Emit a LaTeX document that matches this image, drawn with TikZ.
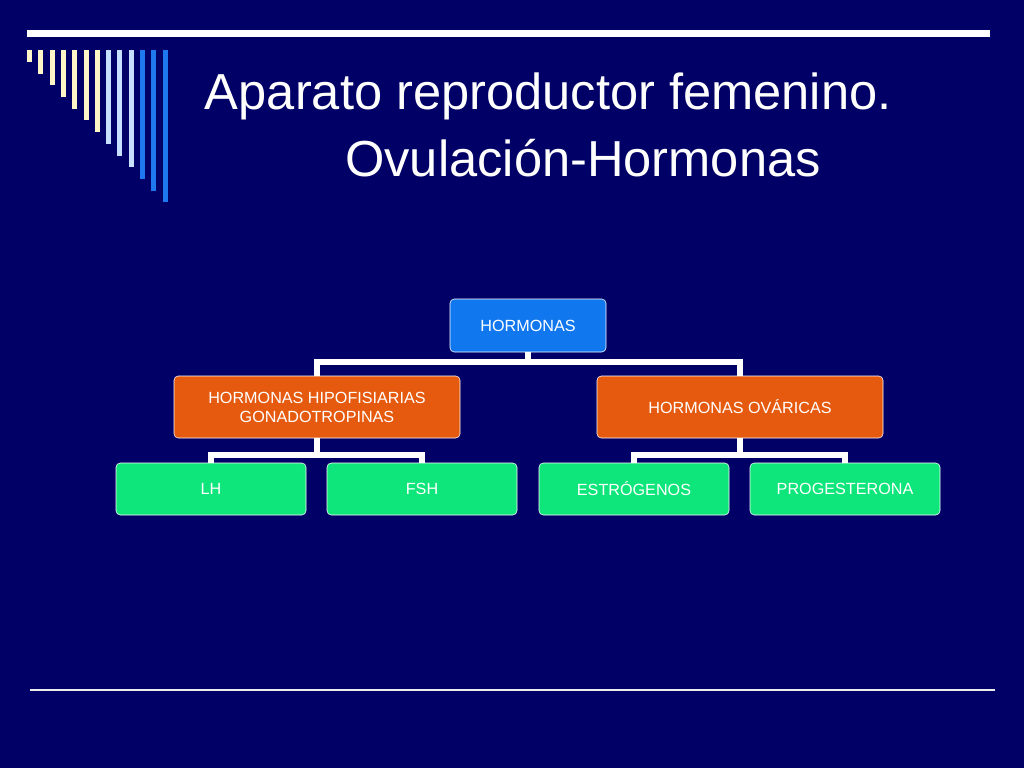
\documentclass[tikz,border=0pt]{standalone}
\usepackage{fontspec}
\setmainfont{Liberation Sans}
\usetikzlibrary{positioning}
\definecolor{bgblue}{HTML}{000066}
\definecolor{cream}{HTML}{FFF6C8}
\definecolor{paleblue}{HTML}{C8E0FF}
\definecolor{midblue}{HTML}{1E78F0}
\definecolor{topblue}{HTML}{1177EE}
\definecolor{orangebox}{HTML}{E55A0E}
\definecolor{greenbox}{HTML}{0EE57A}

\begin{document}
\begin{tikzpicture}[x=0.025cm, y=-0.025cm,
	box/.style={draw=white, line width=0.4pt, rounded corners=3pt, text=white,
		font=\fontsize{11.5}{13.5}\selectfont, align=center, inner sep=0pt},
	top/.style={box, fill=topblue, minimum width=156*0.025cm, minimum height=53*0.025cm},
	mid/.style={box, fill=orangebox, minimum width=286*0.025cm, minimum height=62*0.025cm},
	leaf/.style={box, fill=greenbox, minimum width=190*0.025cm, minimum height=52*0.025cm},
	link/.style={white, line width=4.5pt}]

	% ---- background

	\fill[bgblue] (0,0) rectangle (1024,768);
	\useasboundingbox (0,0) rectangle (1024,768);

	% ---- decoration

	\fill[white] (27,30) rectangle (990,37);
	\foreach \i in {0,...,12} {
		\pgfmathsetmacro\bx{27+11.3*\i}
		\pgfmathsetmacro\by{62+11.7*\i}
		\ifnum\i<7 \def\bc{cream}\else\ifnum\i<10 \def\bc{paleblue}\else\def\bc{midblue}\fi\fi
		\fill[\bc] (\bx,50) rectangle ++(5,\by-50);
	}
	\draw[white!85!gray, line width=0.8pt] (30,690) -- (995,690);

	% ---- title

	\node[text=white, font=\fontsize{36}{44}\selectfont, anchor=base west] (t1) at (200,110) {Aparato reproductor femenino.};
	\node[text=white, font=\fontsize{36}{44}\selectfont, anchor=base] (t2) at (583,177) {Ovulación-Hormonas};

	% ---- nodes

	\node[top] (hor) at (528,325.5) {HORMONAS};
	\node[mid] (hip) at (317,407) {HORMONAS HIPOFISIARIAS\\GONADOTROPINAS};
	\node[mid] (ova) at (740,407) {HORMONAS OVÁRICAS};
	\node[leaf] (lh) at (211,489) {LH};
	\node[leaf] (fsh) at (422,489) {FSH};
	\node[leaf] (est) at (634,489) {ESTRÓGENOS};
	\node[leaf] (pro) at (845,489) {PROGESTERONA};

	% ---- links

	\draw[link] (hor.south) -- ++(0,10) -| (hip.north);
	\draw[link] (hor.south) -- ++(0,10) -| (ova.north);
	\draw[link] (hip.south) -- ++(0,17) -| (lh.north);
	\draw[link] (hip.south) -- ++(0,17) -| (fsh.north);
	\draw[link] (ova.south) -- ++(0,17) -| (est.north);
	\draw[link] (ova.south) -- ++(0,17) -| (pro.north);

\end{tikzpicture}
\end{document}
